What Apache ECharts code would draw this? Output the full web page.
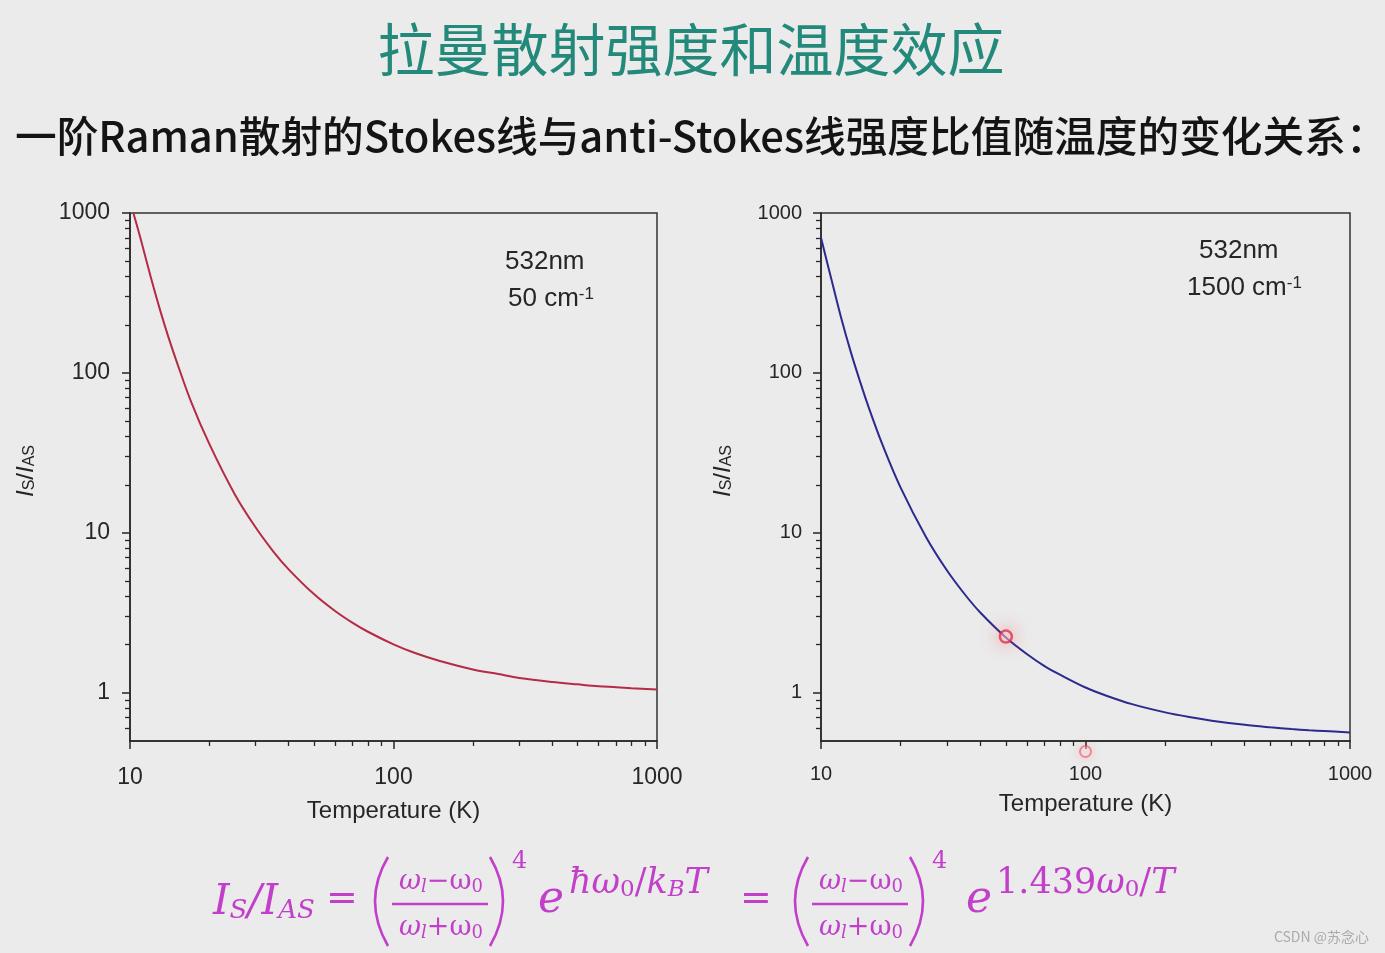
<!DOCTYPE html>
<html>
<head>
<meta charset="utf-8">
<script src="https://cdn.jsdelivr.net/npm/echarts@6/dist/echarts.min.js"></script>
<style>
html,body{margin:0;padding:0;background:#ebebeb;}
#chart{width:1385px;height:953px;}
</style>
</head>
<body>
<div id="chart"></div>
<script>
// ---- data ----
const tempsLeft  = [10.3, 11, 12, 13, 14, 15, 17, 20, 25, 30, 35, 40, 50, 60, 70, 80, 100, 120, 150, 200, 250, 300, 400, 500, 600, 700, 800, 1000];
const ratio50    = [1000, 680, 395, 248, 167, 119, 67, 36, 17.4, 10.8, 7.65, 5.92, 4.13, 3.25, 2.74, 2.41, 2.01, 1.78, 1.58, 1.40, 1.31, 1.24, 1.17, 1.13, 1.10, 1.085, 1.07, 1.05];
const tempsRight = [10, 11, 12, 13, 14, 15, 17, 20, 25, 30, 35, 40, 50, 60, 70, 80, 100, 120, 150, 200, 250, 300, 400, 500, 600, 700, 800, 1000];
const ratio1500  = [700, 373, 212, 133, 90, 63.8, 36.3, 19.2, 9.37, 5.80, 4.12, 3.18, 2.22, 1.75, 1.47, 1.30, 1.08, 0.96, 0.85, 0.755, 0.703, 0.670, 0.631, 0.609, 0.594, 0.584, 0.577, 0.566];
const pointerMarks = [[50, 2.25], [100, 0.43]];
const xMajorTicks = [10, 100, 1000];
const xMinorTicks = [20, 30, 40, 50, 60, 70, 80, 90, 200, 300, 400, 500, 600, 700, 800, 900];
const yMajorTicks = [1, 10, 100, 1000];
const yMinorTicks = [0.6, 0.7, 0.8, 0.9, 2, 3, 4, 5, 6, 7, 8, 9, 20, 30, 40, 50, 60, 70, 80, 90, 200, 300, 400, 500, 600, 700, 800, 900];
const xRange = [10, 1000];
const yRange = [0.5, 1000];

const pageTitle = '拉曼散射强度和温度效应';
const pageSubtitle = '一阶Raman散射的Stokes线与anti-Stokes线强度比值随温度的变化关系：';
const xName = 'Temperature (K)';

// ---- styling ----
const ink = '#262626';
const sans = '"Liberation Sans", Arial, sans-serif';
const mathFont = '"DejaVu Serif", serif';
const magenta = '#c23fca';
const plain = v => String(v);

function mainX(grid, fs, margin, gap) {
  return {
    type: 'log', logBase: 10, gridIndex: grid, min: xRange[0], max: xRange[1], position: 'bottom',
    axisLine: {show: true, onZero: false, lineStyle: {color: ink, width: 1.5}},
    axisTick: {show: true, inside: false, length: 8, customValues: xMajorTicks, lineStyle: {color: ink, width: 1.5}},
    axisLabel: {show: true, customValues: xMajorTicks, formatter: plain, fontSize: fs, color: ink, margin: margin, fontFamily: sans},
    splitLine: {show: false}, minorTick: {show: false},
    name: xName, nameLocation: 'middle', nameGap: gap,
    nameTextStyle: {fontSize: 24, color: ink, fontFamily: sans}
  };
}
function minorX(grid) {
  return {
    type: 'log', logBase: 10, gridIndex: grid, min: xRange[0], max: xRange[1], position: 'bottom',
    axisLine: {show: false, onZero: false},
    axisTick: {show: true, inside: false, length: 5, customValues: xMinorTicks, lineStyle: {color: ink, width: 1.3}},
    axisLabel: {show: false}, splitLine: {show: false}
  };
}
function mainY(grid, fs, margin, gap) {
  return {
    type: 'log', logBase: 10, gridIndex: grid, min: yRange[0], max: yRange[1], position: 'left',
    axisLine: {show: true, onZero: false, lineStyle: {color: ink, width: 1.5}},
    axisTick: {show: true, inside: false, length: 8, customValues: yMajorTicks, lineStyle: {color: ink, width: 1.5}},
    axisLabel: {show: true, customValues: yMajorTicks, formatter: plain, fontSize: fs, color: ink, margin: margin, fontFamily: sans},
    splitLine: {show: false},
    name: '{i|I}{s|S}{n|/}{i|I}{s|AS}', nameLocation: 'middle', nameGap: gap, nameRotate: 90,
    nameTextStyle: {
      color: ink, fontFamily: sans, padding: [0, 0, 0, 12],
      rich: {
        i: {fontSize: 24, fontStyle: 'italic', color: ink, fontFamily: sans},
        n: {fontSize: 24, color: ink, fontFamily: sans},
        s: {fontSize: 16, color: ink, fontFamily: sans, verticalAlign: 'bottom', padding: [6, 0, 0, 0]}
      }
    }
  };
}
function minorY(grid) {
  return {
    type: 'log', logBase: 10, gridIndex: grid, min: yRange[0], max: yRange[1], position: 'left',
    axisLine: {show: false, onZero: false},
    axisTick: {show: true, inside: false, length: 5, customValues: yMinorTicks, lineStyle: {color: ink, width: 1.3}},
    axisLabel: {show: false}, splitLine: {show: false}
  };
}

const chart = echarts.init(document.getElementById('chart'), null, {renderer: 'canvas'});

function fracGroup(x0, w) {
  // big parentheses + fraction bar of the formula
  return [
    {type: 'bezierCurve', shape: {x1: x0 + 16, y1: 857, cpx1: x0 - 10, cpy1: 901, x2: x0 + 16, y2: 946}, style: {stroke: magenta, lineWidth: 2.6, fill: null}},
    {type: 'bezierCurve', shape: {x1: x0 + w + 20, y1: 857, cpx1: x0 + w + 46, cpy1: 901, x2: x0 + w + 20, y2: 946}, style: {stroke: magenta, lineWidth: 2.6, fill: null}},
    {type: 'line', shape: {x1: x0 + 20, y1: 904, x2: x0 + w + 18, y2: 904}, style: {stroke: magenta, lineWidth: 2.4}}
  ];
}
const it = (fs, extra) => Object.assign({fontSize: fs, fontStyle: 'italic', fontFamily: mathFont, fill: magenta}, extra || {});
const up = (fs, extra) => Object.assign({fontSize: fs, fontFamily: mathFont, fill: magenta}, extra || {});
const subPad = (p) => ({verticalAlign: 'bottom', padding: [p, 0, 0, 0]});
const mrich = {
  m: it(42),
  s: it(26, subPad(14)),
  r: up(38),
  w: it(27),
  o: up(27),
  q: it(18, subPad(10)),
  qn: up(18, subPad(10)),
  x: it(35),
  xn: up(35),
  xs: it(23, subPad(11)),
  xsn: up(23, subPad(11)),
  e: it(44),
  p: up(24)
};
function mtext(x, y, text, align) {
  return {type: 'text', x: x, y: y, style: {text: text, rich: mrich, align: align || 'left', verticalAlign: 'middle', fill: magenta}};
}
const supRich = {sup: {fontSize: 17, fill: ink, fontFamily: sans, verticalAlign: 'top', padding: [0, 0, 9, 0]}};

const graphics = [
  {type: 'text', x: 691, y: 49, style: {text: pageTitle, fill: '#23897a', font: '400 57px "Noto Sans CJK SC", sans-serif', align: 'center', verticalAlign: 'middle'}},
  {type: 'text', x: 15, y: 136, style: {text: pageSubtitle, fill: '#141414', font: '500 41.7px "Noto Sans CJK SC", sans-serif', align: 'left', verticalAlign: 'middle'}},
  {type: 'text', x: 505, y: 262, style: {text: '532nm', fill: ink, font: '26px ' + sans, verticalAlign: 'middle'}},
  {type: 'text', x: 508, y: 299, style: {text: '50 cm{sup|-1}', fill: ink, font: '26px ' + sans, verticalAlign: 'middle', rich: supRich}},
  {type: 'text', x: 1199, y: 251, style: {text: '532nm', fill: ink, font: '26px ' + sans, verticalAlign: 'middle'}},
  {type: 'text', x: 1187, y: 288, style: {text: '1500 cm{sup|-1}', fill: ink, font: '26px ' + sans, verticalAlign: 'middle', rich: supRich}},
  // formula
  mtext(213, 903, '{m|I}{s|S}{m|/I}{s|AS}'),
  mtext(326, 900, '{r|=}'),
  mtext(441, 882, '{w|ω}{q|l}{o|−ω}{qn|0}', 'center'),
  mtext(441, 928, '{w|ω}{q|l}{o|+ω}{qn|0}', 'center'),
  mtext(512, 862, '{p|4}'),
  mtext(538, 901, '{e|e}'),
  mtext(569, 884, '{x|ħω}{xsn|0}{xn|/}{x|k}{xs|B}{x|T}'),
  mtext(740, 900, '{r|=}'),
  mtext(861, 882, '{w|ω}{q|l}{o|−ω}{qn|0}', 'center'),
  mtext(861, 928, '{w|ω}{q|l}{o|+ω}{qn|0}', 'center'),
  mtext(932, 862, '{p|4}'),
  mtext(966, 901, '{e|e}'),
  mtext(996, 884, '{xn|1.439}{x|ω}{xsn|0}{xn|/}{x|T}'),
  {type: 'text', x: 1369, y: 937, style: {text: 'CSDN @苏念心', fill: '#ababab', font: '14px "Noto Sans CJK SC", sans-serif', align: 'right', verticalAlign: 'middle'}}
].concat(fracGroup(372, 98), fracGroup(792, 98));

const option = {
  backgroundColor: '#ebebeb',
  animation: false,
  grid: [
    {left: 130, top: 213, width: 527, height: 528, show: true, borderColor: '#333', borderWidth: 1.5, backgroundColor: 'transparent', containLabel: false},
    {left: 821, top: 213, width: 529, height: 528, show: true, borderColor: '#333', borderWidth: 1.5, backgroundColor: 'transparent', containLabel: false}
  ],
  xAxis: [mainX(0, 23, 25, 58), minorX(0), mainX(1, 20, 23, 51), minorX(1)],
  yAxis: [mainY(0, 23, 20, 92), minorY(0), mainY(1, 20, 19, 86), minorY(1)],
  series: [
    {type: 'line', xAxisIndex: 0, yAxisIndex: 0, data: tempsLeft.map((t, i) => [t, ratio50[i]]),
     showSymbol: false, smooth: 0.35, lineStyle: {color: '#b52a45', width: 2}},
    {type: 'line', xAxisIndex: 2, yAxisIndex: 2, data: tempsRight.map((t, i) => [t, ratio1500[i]]),
     showSymbol: false, smooth: 0.35, lineStyle: {color: '#2c2a8e', width: 2}},
    {type: 'scatter', xAxisIndex: 2, yAxisIndex: 2, clip: false, z: 5, symbol: 'circle', silent: true,
     data: [
       {value: pointerMarks[0], symbolSize: 12, itemStyle: {color: 'rgba(255,220,225,0.6)', borderColor: '#e0304a', borderWidth: 2.5, shadowBlur: 18, shadowColor: 'rgba(255,70,80,0.75)'}},
       {value: pointerMarks[1], symbolSize: 11, itemStyle: {color: 'rgba(255,235,238,0.5)', borderColor: 'rgba(230,80,100,0.75)', borderWidth: 2, shadowBlur: 12, shadowColor: 'rgba(255,90,100,0.45)'}}
     ]}
  ],
  graphic: graphics
};
chart.setOption(option);
</script>
</body>
</html>
